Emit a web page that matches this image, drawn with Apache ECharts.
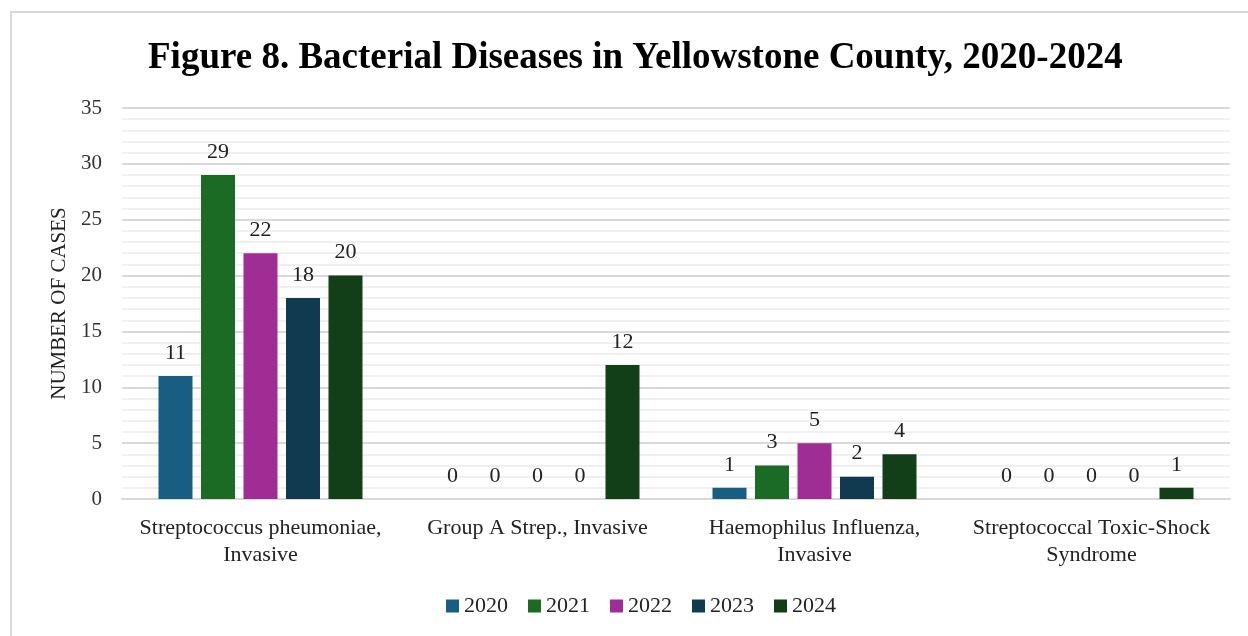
<!DOCTYPE html>
<html>
<head>
<meta charset="utf-8">
<script src="https://cdn.jsdelivr.net/npm/echarts@6/dist/echarts.min.js"></script>
<style>
  html, body { margin: 0; padding: 0; background: #ffffff; }
  #chart { width: 1248px; height: 636px; }
</style>
</head>
<body>
<div id="chart"></div>
<script>
// Reported case counts by disease and year
const categories = [
  'Streptococcus pheumoniae,\nInvasive',
  'Group A Strep., Invasive',
  'Haemophilus Influenza,\nInvasive',
  'Streptococcal Toxic-Shock\nSyndrome'
];
const years = ['2020', '2021', '2022', '2023', '2024'];
const cases2020 = [11, 0, 1, 0];
const cases2021 = [29, 0, 3, 0];
const cases2022 = [22, 0, 5, 0];
const cases2023 = [18, 0, 2, 0];
const cases2024 = [20, 12, 4, 1];
const yearColors = ['#175e82', '#1b6b25', '#a02d93', '#0f3a50', '#123f18'];

const serif = '"Liberation Serif", "DejaVu Serif", serif';
const seriesData = [cases2020, cases2021, cases2022, cases2023, cases2024];

const chart = echarts.init(document.getElementById('chart'), null, { renderer: 'canvas' });

chart.setOption({
  backgroundColor: '#ffffff',
  animation: false,
  title: {
    text: 'Figure 8. Bacterial Diseases in Yellowstone County, 2020-2024',
    left: 143,
    top: 35,
    textStyle: { fontFamily: serif, fontSize: 37, fontWeight: 'bold', color: '#000000' }
  },
  graphic: [{
    type: 'rect',
    shape: { x: 11, y: 12, width: 1400, height: 800 },
    style: { fill: 'none', stroke: '#d9d9d9', lineWidth: 2 },
    silent: true
  }],
  legend: {
    data: years,
    bottom: 14,
    left: 441,
    itemWidth: 13,
    itemHeight: 13,
    itemGap: 20,
    icon: 'rect',
    textStyle: { fontFamily: serif, fontSize: 22, color: '#222222', padding: [2, 0, 0, 0] }
  },
  grid: { left: 122, right: 18, top: 108, bottom: 137, containLabel: false },
  xAxis: {
    type: 'category',
    data: categories,
    axisLine: { show: true, lineStyle: { color: '#d9d9d9', width: 2 } },
    axisTick: { show: false },
    axisLabel: {
      fontFamily: serif, fontSize: 22, color: '#222222',
      lineHeight: 27, margin: 16, interval: 0
    }
  },
  yAxis: {
    type: 'value',
    min: 0,
    max: 35,
    interval: 5,
    name: 'NUMBER OF CASES',
    nameLocation: 'middle',
    nameGap: 52,
    nameTextStyle: { fontFamily: serif, fontSize: 21, color: '#222222' },
    axisLine: { show: false },
    axisTick: { show: false },
    axisLabel: { fontFamily: serif, fontSize: 21, color: '#333333', margin: 20 },
    splitLine: { lineStyle: { color: '#d9d9d9', width: 2 } },
    minorTick: { show: false, splitNumber: 5 },
    minorSplitLine: { show: true, lineStyle: { color: '#f0f0f0', width: 2 } }
  },
  series: years.map((y, i) => ({
    name: y,
    type: 'bar',
    data: seriesData[i],
    barWidth: 34,
    barGap: '25%',
    itemStyle: { color: yearColors[i] },
    label: {
      show: true,
      position: 'top',
      distance: 12,
      fontFamily: serif,
      fontSize: 22,
      color: '#222222'
    }
  }))
});
</script>
</body>
</html>
